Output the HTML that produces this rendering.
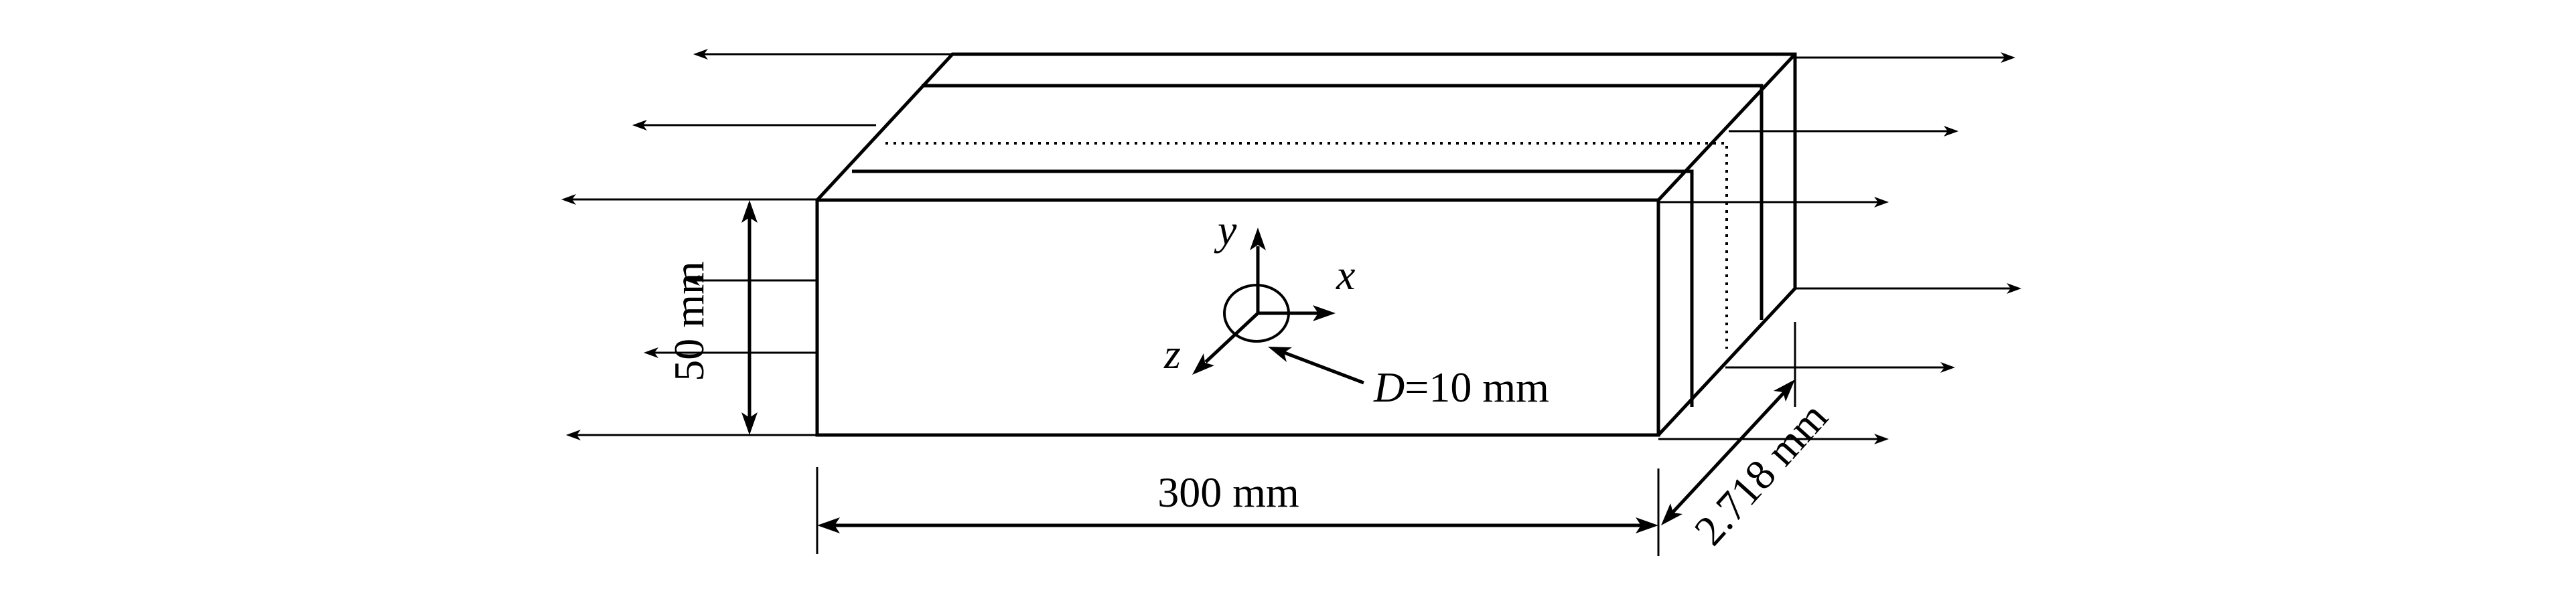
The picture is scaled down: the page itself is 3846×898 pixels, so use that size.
<!DOCTYPE html>
<html><head><meta charset="utf-8"><style>body{margin:0;background:#fff}svg{display:block}</style></head><body>
<svg width="3846" height="898" viewBox="0 0 3846 898" xmlns="http://www.w3.org/2000/svg">
<g stroke="#000" fill="none" stroke-width="5">
<rect x="1220" y="299" width="1256" height="351"/>
<path d="M1220,299 L1422,81 L2680,81 L2680,431 L2476,650"/>
<path d="M2476,299 L2680,81"/>
<path d="M1376,128 L2630,128 L2630,478"/>
<path d="M1272,256 L2526,256 L2526,608"/>
</g>
<path d="M1322,214 L2578,214 L2578,521" stroke="#000" stroke-width="4" stroke-dasharray="4,8" fill="none"/>
<g stroke="#000" stroke-width="3" fill="none">
<line x1="1422" y1="81" x2="1045" y2="81"/>
<line x1="1308" y1="187" x2="954" y2="187"/>
<line x1="1220" y1="298" x2="848" y2="298"/>
<line x1="1220" y1="650" x2="855" y2="650"/>
<line x1="1220" y1="419" x2="1033" y2="419"/>
<line x1="1220" y1="527" x2="971" y2="527"/>
<line x1="2680" y1="86" x2="2999" y2="86"/>
<line x1="2581" y1="196" x2="2914" y2="196"/>
<line x1="2476" y1="302" x2="2810" y2="302"/>
<line x1="2680" y1="431" x2="3008" y2="431"/>
<line x1="2576" y1="549" x2="2909" y2="549"/>
<line x1="2476" y1="656" x2="2810" y2="656"/>
<line x1="1220" y1="698" x2="1220" y2="828"/>
<line x1="2476" y1="700" x2="2476" y2="831"/>
<line x1="2680" y1="481" x2="2680" y2="608"/>
</g>
<g fill="#000">
<polygon points="1035,81 1057,73 1051,81 1057,89"/>
<polygon points="944,187 966,179 960,187 966,195"/>
<polygon points="838,298 860,290 854,298 860,306"/>
<polygon points="845,650 867,642 861,650 867,658"/>
<polygon points="1023,419 1045,411 1039,419 1045,427"/>
<polygon points="961,527 983,519 977,527 983,535"/>
<polygon points="3009,86 2987,78 2993,86 2987,94"/>
<polygon points="2924,196 2902,188 2908,196 2902,204"/>
<polygon points="2820,302 2798,294 2804,302 2798,310"/>
<polygon points="3018,431 2996,423 3002,431 2996,439"/>
<polygon points="2919,549 2897,541 2903,549 2897,557"/>
<polygon points="2820,656 2798,648 2804,656 2798,664"/>
<polygon points="1119,299 1107,333 1119,325 1131,333"/>
<polygon points="1119,650 1107,616 1119,624 1131,616"/>
<polygon points="1220,785 1254,773 1246,785 1254,797"/>
<polygon points="2476,785 2442,773 2450,785 2442,797"/>
<polygon points="2680,567 2666,600 2662,586 2648,584"/>
<polygon points="2480,785 2494,752 2498,766 2512,768"/>
<polygon points="1878,340 1866,374 1878,366 1890,374"/>
<polygon points="1994,468 1960,456 1968,468 1960,480"/>
<polygon points="1780,560 1797,528 1799,542 1813,546"/>
<polygon points="1893,518 1929,519 1917,527 1921,541"/>
</g>
<g stroke="#000" stroke-width="5" fill="none">
<line x1="1119" y1="320" x2="1119" y2="628"/>
<line x1="1244" y1="785" x2="2452" y2="785"/>
<line x1="2665" y1="585" x2="2496" y2="767"/>
<line x1="1878" y1="468" x2="1878" y2="368"/>
<line x1="1878" y1="468" x2="1968" y2="468"/>
<line x1="1878" y1="468" x2="1800" y2="541"/>
<line x1="2036" y1="572" x2="1915" y2="526"/>
</g>
<ellipse cx="1876" cy="468" rx="48" ry="42" stroke="#000" stroke-width="4" fill="none"/>
<g font-family="Liberation Serif, serif" font-size="64" fill="#000">
<text x="1834" y="757" text-anchor="middle">300 mm</text>
<text transform="translate(1050,480) rotate(-90)" text-anchor="middle">50 mm</text>
<text transform="translate(2645,722) rotate(-48)" text-anchor="middle">2.718 mm</text>
<text x="2051" y="600"><tspan font-style="italic">D</tspan>=10 mm</text>
<text x="1818" y="365" font-style="italic">y</text>
<text x="1995" y="432" font-style="italic">x</text>
<text x="1738" y="550" font-style="italic">z</text>
</g>
</svg>
</body></html>
